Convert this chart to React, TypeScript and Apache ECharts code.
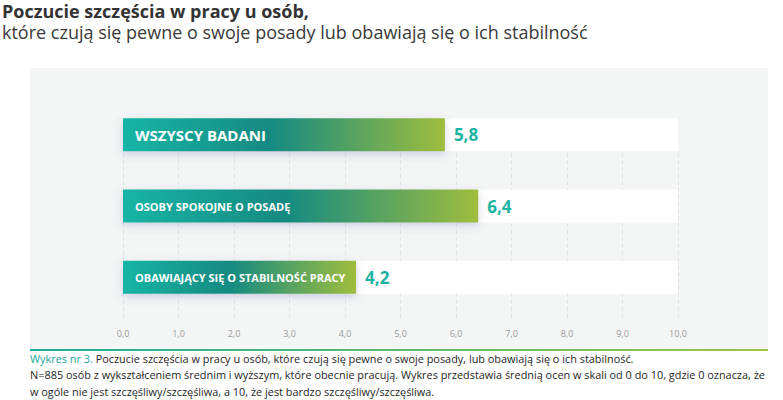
import React, { useEffect, useRef } from "react";
import * as echarts from "echarts";

const titleLine1 = "Poczucie szczęścia w pracy u osób,";
const titleLine2 = "które czują się pewne o swoje posady lub obawiają się o ich stabilność";
const categories = ["WSZYSCY BADANI", "OSOBY SPOKOJNE O POSADĘ", "OBAWIAJĄCY SIĘ O STABILNOŚĆ PRACY"];
const categoryFontSizes = [15, 11, 11];
const values = [5.8, 6.4, 4.2];
const axisMin = 0;
const axisMax = 10;
const axisInterval = 1;
const captionLead = "Wykres nr 3.";
const captionLine1 = " Poczucie szczęścia w pracy u osób, które czują się pewne o swoje posady, lub obawiają się o ich stabilność.";
const captionLine2 = "N=885 osób z wykształceniem średnim i wyższym, które obecnie pracują. Wykres przedstawia średnią ocen w skali od 0 do 10, gdzie 0 oznacza, że";
const captionLine3 = "w ogóle nie jest szczęśliwy/szczęśliwa, a 10, że jest bardzo szczęśliwy/szczęśliwa.";

const fmt = (v: number) => v.toFixed(1).replace(".", ",");

export default function App() {
  const ref = useRef<HTMLDivElement>(null);
  useEffect(() => {
    if (!ref.current) return;
    const chart = echarts.init(ref.current, undefined, { renderer: "svg" });
    const font = "'Open Sans', 'Noto Sans', sans-serif";
    const barGradient = new echarts.graphic.LinearGradient(0, 0, 1, 0, [
      { offset: 0, color: "#14b5a5" },
      { offset: 0.45, color: "#128a82" },
      { offset: 1, color: "#9fbd3e" },
    ]);
    chart.setOption({
      animation: false,
      textStyle: { fontFamily: font },
      grid: [
        { left: 123, right: 105, top: 99, height: 214 },
        { left: 123, right: 105, top: 153, bottom: 78 },
      ],
      xAxis: [
        { gridIndex: 0, type: "value", min: axisMin, max: axisMax, show: false, splitLine: { show: false } },
        {
          gridIndex: 1,
          type: "value",
          min: axisMin,
          max: axisMax,
          interval: axisInterval,
          axisLine: { show: false },
          axisTick: { show: false },
          axisLabel: { color: "#9a9a9a", fontSize: 9, margin: 7, formatter: (v: number) => fmt(v), fontFamily: font },
          splitLine: { show: true, lineStyle: { color: "#e3e3e3", type: [4, 3], width: 1 } },
        },
      ],
      yAxis: [
        { gridIndex: 0, type: "category", inverse: true, data: categories, show: false },
        { gridIndex: 1, type: "value", show: false, min: 0, max: 1, splitLine: { show: false } },
      ],
      graphic: [
        {
          type: "rect",
          z: -10,
          silent: true,
          shape: { x: 30, y: 68, width: 738, height: 283 },
          style: { fill: "#f4f5f5" },
        },
        {
          type: "rect",
          z: 5,
          silent: true,
          shape: { x: 30, y: 349, width: 738, height: 2 },
          style: {
            fill: new echarts.graphic.LinearGradient(0, 0, 1, 0, [
              { offset: 0, color: "#1aae9d" },
              { offset: 1, color: "#9cc640" },
            ]),
          },
        },
        {
          type: "text",
          x: 2,
          y: 11,
          style: { text: titleLine1, fill: "#333333", font: `bold 18px ${font}`, verticalAlign: "middle" },
        },
        {
          type: "text",
          x: 2,
          y: 32,
          style: { text: titleLine2, fill: "#3a3a3a", font: `18px ${font}`, verticalAlign: "middle" },
        },
        {
          type: "text",
          x: 30,
          y: 350,
          style: {
            text: `{t|${captionLead}}${captionLine1}\n${captionLine2}\n${captionLine3}`,
            fill: "#262626",
            font: `10.9px ${font}`,
            lineHeight: 16.5,
            rich: { t: { fill: "#1ca99b", font: `10.9px ${font}`, lineHeight: 16.5 } },
          },
        },
      ],
      series: [
        {
          type: "bar",
          xAxisIndex: 0,
          yAxisIndex: 0,
          data: values,
          barWidth: 33,
          showBackground: true,
          backgroundStyle: { color: "#ffffff" },
          itemStyle: {
            color: barGradient,
            shadowBlur: 8,
            shadowColor: "rgba(80,90,160,0.25)",
            shadowOffsetY: 3,
          },
          label: {
            show: true,
            position: "right",
            distance: 9,
            formatter: (p: any) => fmt(p.value),
            color: "#1db3a2",
            fontSize: 17,
            fontWeight: "bold",
            fontFamily: font,
          },
          z: 3,
        },
        {
          type: "bar",
          xAxisIndex: 0,
          yAxisIndex: 0,
          barWidth: 33,
          barGap: "-100%",
          silent: true,
          data: values.map((v, i) => ({
            value: v,
            label: { fontSize: categoryFontSizes[i] },
          })),
          itemStyle: { color: "rgba(0,0,0,0)" },
          label: {
            show: true,
            position: "insideLeft",
            distance: 12,
            formatter: (p: any) => categories[p.dataIndex],
            color: "#ffffff",
            fontWeight: "bold",
            fontFamily: font,
          },
          z: 4,
        },
      ],
    });
    return () => chart.dispose();
  }, []);
  return (
    <div
      ref={ref}
      style={{ position: "fixed", left: 0, top: 0, width: 783, height: 400, background: "#ffffff" }}
    />
  );
}
